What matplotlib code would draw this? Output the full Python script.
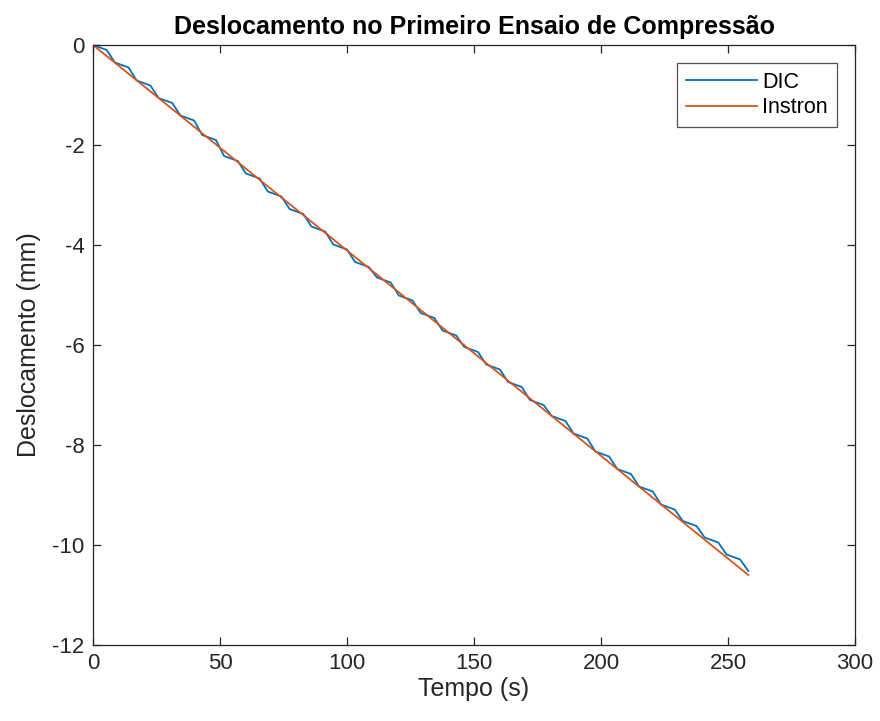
import matplotlib
matplotlib.use("Agg")
import matplotlib.pyplot as plt

plt.rcParams['font.family'] = ['Liberation Sans', 'DejaVu Sans']

# DIC (amostras)
dic_t = [0, 5.4, 8.6, 14.0, 17.2, 22.6, 25.8, 31.2, 34.4, 39.8,
         43.0, 48.4, 51.6, 57.0, 60.2, 65.6, 68.8, 74.2, 77.4, 82.8,
         86.0, 91.4, 94.6, 100.0, 103.2, 108.6, 111.8, 117.2, 120.4, 125.8,
         129.0, 134.4, 137.6, 143.0, 146.2, 151.6, 154.8, 160.2, 163.4, 168.8,
         172.0, 177.4, 180.6, 186.0, 189.2, 194.6, 197.8, 203.2, 206.4, 211.8,
         215.0, 220.4, 223.6, 229.0, 232.2, 237.6, 240.8, 246.2, 249.4, 254.8,
         258.0]
dic_y = [0.00, -0.10, -0.35, -0.45, -0.71, -0.81, -1.06, -1.16, -1.41, -1.51,
         -1.80, -1.90, -2.22, -2.32, -2.57, -2.67, -2.93, -3.03, -3.28, -3.38,
         -3.63, -3.73, -3.99, -4.09, -4.34, -4.44, -4.65, -4.75, -5.01, -5.11,
         -5.36, -5.46, -5.71, -5.81, -6.04, -6.14, -6.39, -6.49, -6.74, -6.84,
         -7.10, -7.20, -7.42, -7.52, -7.77, -7.87, -8.13, -8.23, -8.48, -8.58,
         -8.83, -8.93, -9.19, -9.29, -9.52, -9.62, -9.85, -9.95, -10.19, -10.29,
         -10.52]

# Instron
instron_t = [0, 50, 100, 150, 200, 258]
instron_y = [0, -2.054, -4.109, -6.163, -8.217, -10.60]

x_ticks = [0, 50, 100, 150, 200, 250, 300]
y_ticks = [0, -2, -4, -6, -8, -10, -12]

fig = plt.figure(figsize=(8.8, 7.21), dpi=100)
# eixo: x 93..855 px, y 45..645 px
ax = fig.add_axes([93 / 880, 76 / 721, 762 / 880, 600 / 721])

ax.plot(dic_t, dic_y, color='#0072BD', linewidth=1.3, label='DIC')
ax.plot(instron_t, instron_y, color='#D95319', linewidth=1.3, label='Instron')

ax.set_xlim(0, 300)
ax.set_ylim(-12, 0)
ax.set_xticks(x_ticks)
ax.set_yticks(y_ticks)
ax.set_xticklabels([str(v) for v in x_ticks])
ax.set_yticklabels([str(v) for v in y_ticks])

axis_col = '#262626'
for s in ax.spines.values():
    s.set_color(axis_col)
    s.set_linewidth(0.9)
ax.tick_params(direction='in', length=6, width=0.9, colors=axis_col,
               labelsize=16, top=True, right=True, pad=6)
for lbl in ax.get_xticklabels() + ax.get_yticklabels():
    lbl.set_color(axis_col)

ax.set_xlabel('Tempo (s)', fontsize=18, color=axis_col, labelpad=2)
ax.set_ylabel('Deslocamento (mm)', fontsize=18, color=axis_col, labelpad=8)
ax.set_title('Deslocamento no Primeiro Ensaio de Compressão',
             fontsize=18, fontweight='bold', color='black', pad=8)

leg = ax.legend(loc='upper right', fontsize=15.5, frameon=True, fancybox=False,
                edgecolor=axis_col, handlelength=3.3, handletextpad=0.25,
                borderpad=0.4, labelspacing=0.2, borderaxespad=0.85)
leg.get_frame().set_linewidth(0.9)

fig.savefig('out.png', dpi=100, facecolor='white')
